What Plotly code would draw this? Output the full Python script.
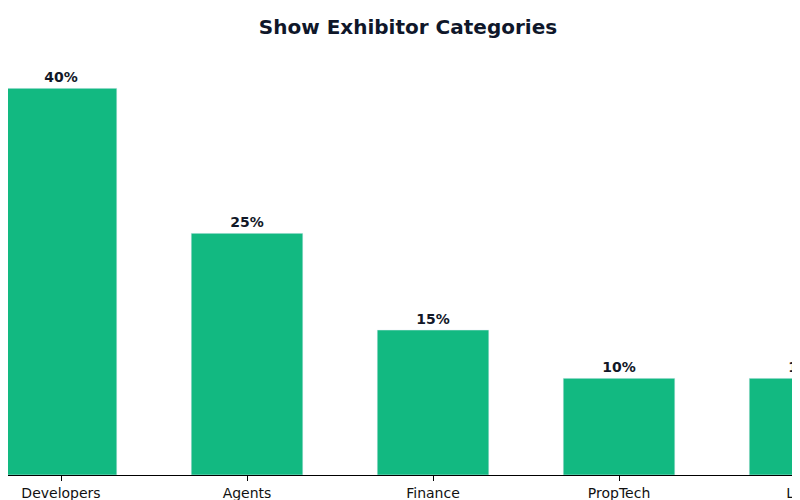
import plotly.graph_objects as go

categories = ["Developers", "Agents", "Finance", "PropTech", "Legal"]
shares = [40, 25, 15, 10, 10]
labels = [f"{v}%" for v in shares]

fig = go.Figure(go.Bar(
    x=categories, y=shares, text=labels, textposition="outside",
    marker_color="#12b981", width=0.6, cliponaxis=False,
    textfont=dict(size=14, color="#111827", family="DejaVu Sans", weight="bold"),
))
fig.update_layout(
    width=800, height=500,
    margin=dict(l=0, r=0, t=32, b=33, autoexpand=False),
    plot_bgcolor="white", paper_bgcolor="white",
    font=dict(family="DejaVu Sans", size=14, color="#111111"),
    title=dict(text="<b>Show Exhibitor Categories</b>", x=0.5, xanchor="center",
               yref="container", y=0.962, yanchor="middle",
               font=dict(size=20, color="#0f172a")),
    showlegend=False,
)
fig.update_xaxes(range=[-0.285, 4.016], showline=True, linecolor="black", linewidth=1,
                 ticks="outside", ticklen=5, tickcolor="black", showgrid=False,
                 automargin=False)
fig.update_yaxes(range=[0, 45], visible=False, automargin=False)
fig.write_html("out.html")
